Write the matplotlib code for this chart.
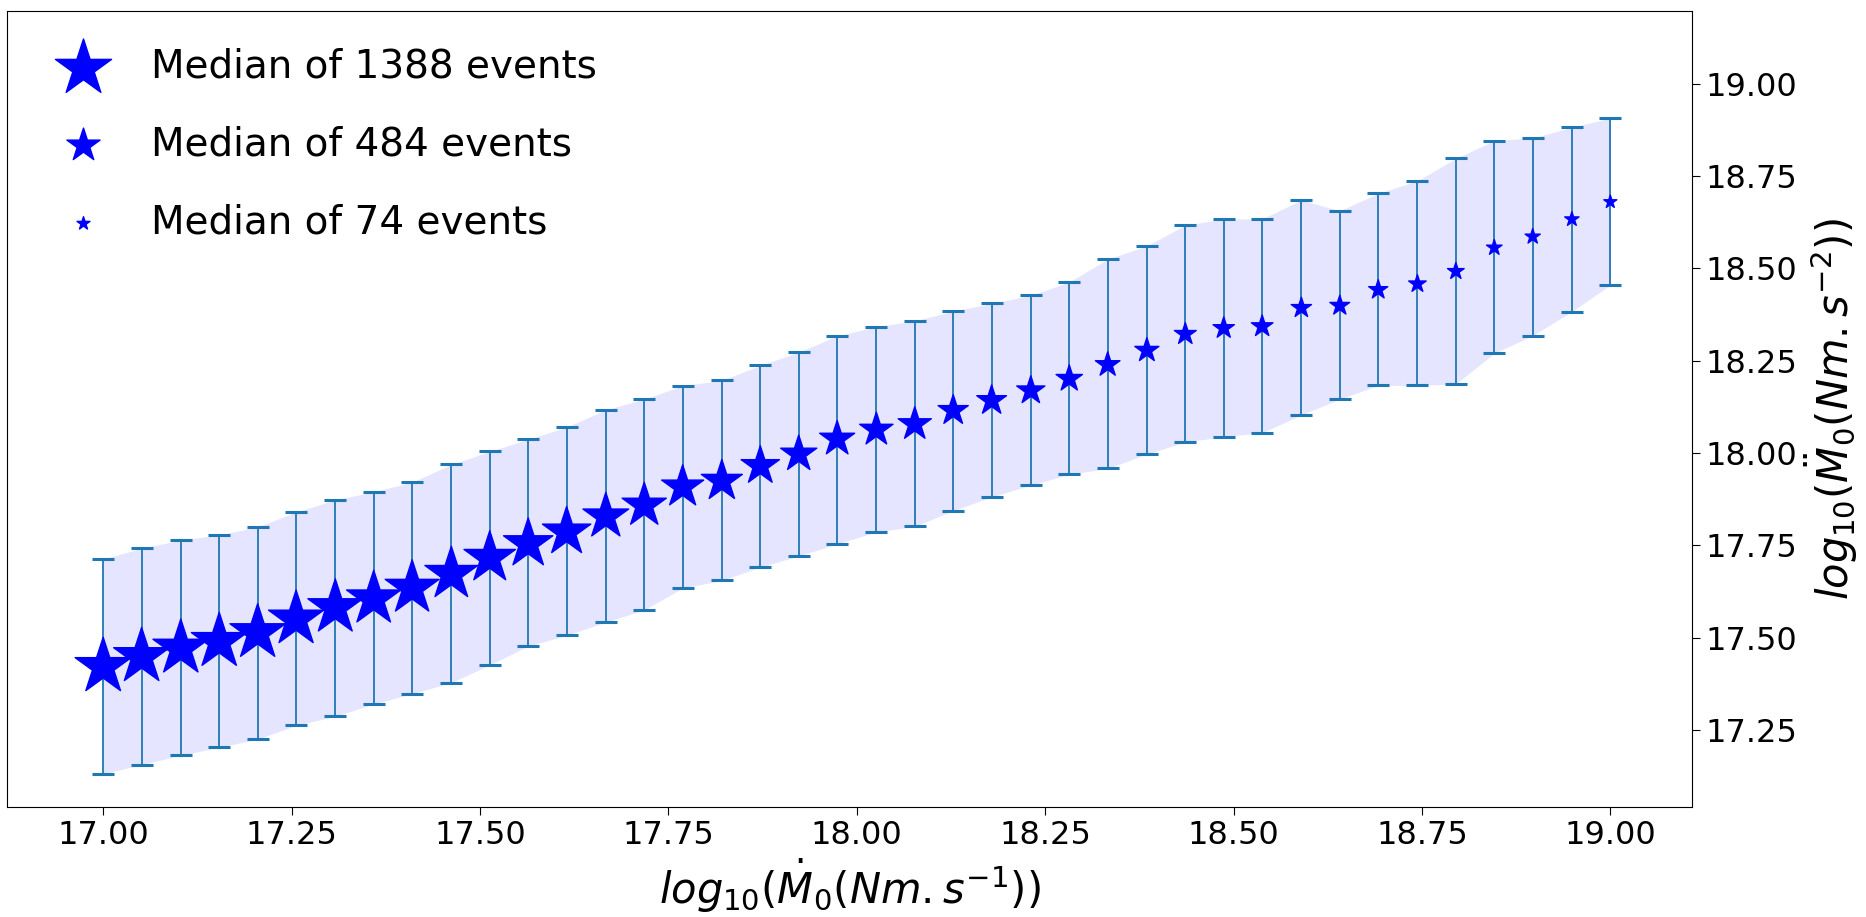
import matplotlib
matplotlib.use("Agg")
import matplotlib.pyplot as plt
import numpy as np

# bin centres, log10 of moment rate
x_bins = [17.000, 17.051, 17.103, 17.154, 17.205, 17.256, 17.308, 17.359, 17.410, 17.462,
          17.513, 17.564, 17.615, 17.667, 17.718, 17.769, 17.821, 17.872, 17.923, 17.974,
          18.026, 18.077, 18.128, 18.179, 18.231, 18.282, 18.333, 18.385, 18.436, 18.487,
          18.538, 18.590, 18.641, 18.692, 18.744, 18.795, 18.846, 18.897, 18.949, 19.000]

# median of each bin
medianas = [17.421, 17.448, 17.471, 17.489, 17.513, 17.550, 17.581, 17.605, 17.634, 17.672,
            17.716, 17.754, 17.786, 17.828, 17.858, 17.908, 17.924, 17.965, 17.997, 18.038,
            18.063, 18.078, 18.115, 18.142, 18.169, 18.201, 18.239, 18.278, 18.322, 18.338,
            18.343, 18.393, 18.399, 18.442, 18.458, 18.492, 18.556, 18.586, 18.633, 18.680]

# upper / lower limits of the spread
superior = [17.713, 17.742, 17.764, 17.778, 17.800, 17.840, 17.873, 17.895, 17.921, 17.969,
            18.004, 18.037, 18.070, 18.117, 18.146, 18.182, 18.197, 18.237, 18.273, 18.317,
            18.342, 18.358, 18.384, 18.405, 18.427, 18.463, 18.525, 18.561, 18.617, 18.634,
            18.634, 18.685, 18.656, 18.703, 18.737, 18.798, 18.846, 18.853, 18.882, 18.907]

inferior = [17.131, 17.156, 17.181, 17.203, 17.225, 17.262, 17.287, 17.320, 17.348, 17.378,
            17.426, 17.477, 17.506, 17.542, 17.575, 17.634, 17.655, 17.691, 17.721, 17.754,
            17.786, 17.801, 17.844, 17.881, 17.913, 17.942, 17.958, 17.997, 18.030, 18.044,
            18.055, 18.103, 18.146, 18.183, 18.183, 18.187, 18.270, 18.318, 18.383, 18.455]

# number of events per bin (star size)
eventos = [1388, 1375, 1362, 1366, 1350, 1340, 1322, 1300, 1280, 1230,
           1170, 1070, 1030, 920, 860, 780, 740, 646, 576, 540,
           490, 484, 400, 390, 350, 305, 265, 255, 210, 200,
           205, 180, 172, 160, 135, 122, 106, 100, 90, 74]

leyenda_eventos = [1388, 484, 74]

escala = 1.3  # points^2 per event

x = np.array(x_bins)
med = np.array(medianas)
sup = np.array(superior)
inf = np.array(inferior)

fig = plt.figure(figsize=(18.66, 9.17), dpi=100)
ax = fig.add_axes([0.0036, 0.1203, 0.9034, 0.8677])

ax.fill_between(x, inf, sup, color='blue', alpha=0.1, linewidth=0)
ax.errorbar(x, med, yerr=[med - inf, sup - med], fmt='none', ecolor='#1f77b4',
            elinewidth=1.3, capsize=8, capthick=2.2, zorder=2)
ax.scatter(x, med, s=np.array(eventos) * escala, marker='*', c='blue', zorder=3)

# legend proxies
for n in leyenda_eventos:
    ax.scatter([], [], s=n * escala, marker='*', c='blue', label='Median of %d events' % n)

ax.legend(loc='upper left', frameon=False, fontsize=28, scatterpoints=1,
          labelspacing=1.02, borderaxespad=0.55, handletextpad=0.75)

ax.set_xlim(16.872, 19.109)
ax.set_ylim(17.042, 19.197)
ax.set_xticks([17.0, 17.25, 17.5, 17.75, 18.0, 18.25, 18.5, 18.75, 19.0])
ax.set_yticks([17.25, 17.5, 17.75, 18.0, 18.25, 18.5, 18.75, 19.0])
ax.xaxis.set_major_formatter(matplotlib.ticker.FormatStrFormatter('%.2f'))
ax.yaxis.set_major_formatter(matplotlib.ticker.FormatStrFormatter('%.2f'))

ax.yaxis.tick_right()
ax.yaxis.set_label_position('right')
ax.tick_params(axis='both', labelsize=23, length=6)

ax.set_xlabel(r'$log_{10}(\dot{M}_0(Nm.s^{-1}))$', fontsize=30)
ax.set_ylabel(r'$log_{10}(\ddot{M}_0(Nm.s^{-2}))$', fontsize=30)

fig.savefig('out.png', dpi=100)
